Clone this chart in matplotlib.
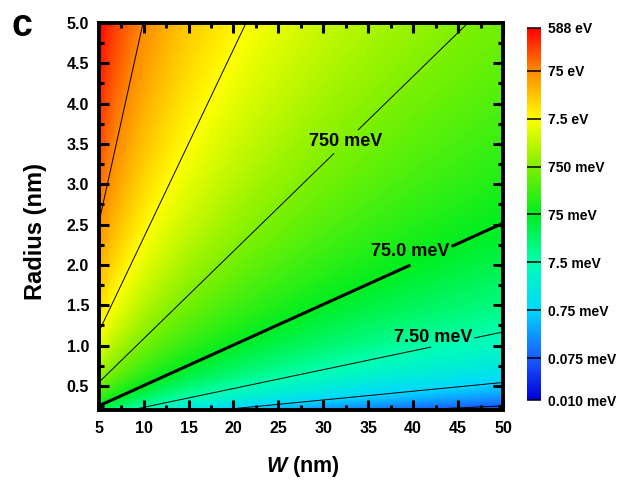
import matplotlib
matplotlib.use('Agg')
import matplotlib.pyplot as plt
import numpy as np
from matplotlib.colors import LinearSegmentedColormap, LogNorm
from matplotlib.ticker import MultipleLocator

plt.rcParams['font.family'] = ['Liberation Sans', 'DejaVu Sans']
plt.rcParams['font.weight'] = 'bold'
plt.rcParams['mathtext.fontset'] = 'custom'
plt.rcParams['mathtext.it'] = 'Liberation Sans:italic:bold'
plt.rcParams['mathtext.rm'] = 'Liberation Sans:bold'

# axis ranges (nm)
w_range = [5, 50]
r_range = [0.2, 5.0]

# energy: 588 eV at R/W = 1, one decade per ~2.15x in R/W
corner_energy = 588.0   # eV
ratio_exponent = 3.0

# contour levels (eV): plain ones and labelled ones
plain_levels = [7.5e-5, 7.5e-4, 7.5, 75.0]
label_levels = [0.75, 7.5e-2, 7.5e-3]
label_names = ['750 meV', '75.0 meV', '7.50 meV']

# colour bar
cbar_ticks = [1e-5, 7.5e-5, 7.5e-4, 7.5e-3, 7.5e-2, 0.75, 7.5, 75.0, 588.0]
cbar_labels = ['0.010 meV', '0.075 meV', '0.75 meV', '7.5 meV', '75 meV',
               '750 meV', '7.5 eV', '75 eV', '588 eV']
cmap_energy = [1e-5, 7.5e-5, 7.5e-4, 7.5e-3, 7.5e-2, 0.75, 7.5, 75.0, 588.0]
cmap_colors = ['#0000d8', '#1a5cff', '#00d8ff', '#00ffb0', '#00ee20',
               '#7ef000', '#ffff00', '#ff8a00', '#ff0000']

vmin, vmax = cbar_ticks[0], cbar_ticks[-1]
lo, hi = np.log10(vmin), np.log10(vmax)
pos = [(np.log10(e) - lo) / (hi - lo) for e in cmap_energy]
cmap = LinearSegmentedColormap.from_list('rainbow_origin', list(zip(pos, cmap_colors)))
norm = LogNorm(vmin=vmin, vmax=vmax)

W, R = np.meshgrid(np.linspace(w_range[0], w_range[1], 400),
                   np.linspace(r_range[0], r_range[1], 400))
E = corner_energy * (R / W) ** ratio_exponent

fig = plt.figure(figsize=(6.21, 4.87), dpi=100)
ax = fig.add_axes([0.159, 0.158, 0.651, 0.795])
cax = fig.add_axes([0.8486, 0.1786, 0.0225, 0.764])

mesh = ax.pcolormesh(W, R, E, cmap=cmap, norm=norm, shading='auto', rasterized=True)
ax.contour(W, R, E, levels=plain_levels, colors='black', linewidths=0.7)

# gap centre on the line (W, R), gap size (as font size), label shift (W, R)
gap_pos = [(32.5, 3.53), (42.0, 2.11), (44.4, 1.04)]
gap_size = [5.9, 7.5, 7.3]
shift = [(0.0, 0.0), (-2.3, 0.05), (-2.2, 0.06)]
line_w = [0.7, 2.2, 0.7]
for lv, name, gp, gs, sh, lw in zip(label_levels, label_names, gap_pos, gap_size, shift, line_w):
    cs = ax.contour(W, R, E, levels=[lv], colors='black', linewidths=lw)
    texts = ax.clabel(cs, fmt={lv: name}, manual=[gp], fontsize=gs,
                      inline=True, inline_spacing=0)
    for t in texts:
        x, y = t.get_position()
        t.set_position((x + sh[0], y + sh[1]))
        t.set_rotation(0)
        t.set_fontsize(13)
        t.set_fontweight('bold')

ax.set_xlim(w_range)
ax.set_ylim(r_range)
ax.xaxis.set_major_locator(MultipleLocator(5))
ax.xaxis.set_minor_locator(MultipleLocator(2.5))
ax.set_yticks(np.arange(0.5, 5.01, 0.5))
ax.yaxis.set_minor_locator(MultipleLocator(0.25))
ax.tick_params(which='both', direction='in', top=True, right=True, width=2.2, labelsize=11.5)
ax.tick_params(which='major', length=7.2)
ax.tick_params(which='minor', length=3.6)
ax.tick_params(axis='x', pad=8)
ax.tick_params(axis='y', pad=7)
for sp in ax.spines.values():
    sp.set_linewidth(2.8)

ax.set_xlabel(r'$\mathit{W}$ (nm)', fontsize=15.5, fontweight='bold')
ax.set_ylabel('Radius (nm)', fontsize=17, fontweight='bold')
ax.xaxis.set_label_coords(0.506, -0.113)
ax.yaxis.set_label_coords(-0.129, 0.462)
fig.text(0.0354, 0.926, 'c', fontsize=27, fontweight='bold', ha='center', va='baseline')

cb = fig.colorbar(mesh, cax=cax)
cb.set_ticks(cbar_ticks)
cb.set_ticklabels(cbar_labels)
cb.minorticks_off()
cb.outline.set_visible(False)
cax.tick_params(direction='in', length=10, width=1.1, labelsize=10, pad=5)

fig.savefig('out.png', dpi=100)
